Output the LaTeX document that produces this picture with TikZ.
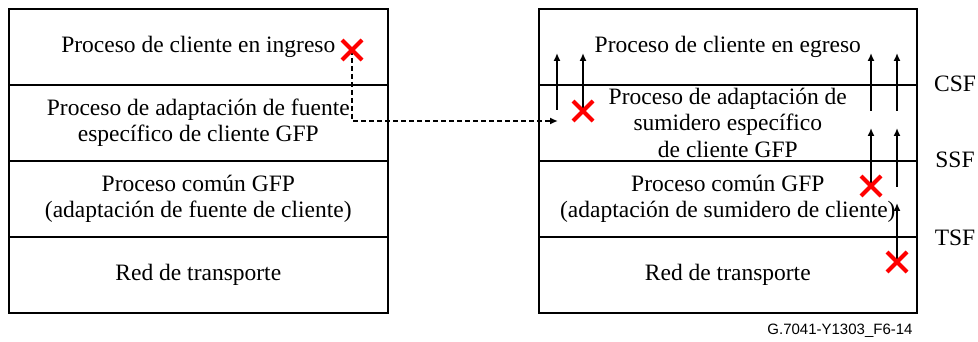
\documentclass[tikz,border=0pt]{standalone}
\usepackage{fontspec}
\setmainfont{Liberation Serif}
\newfontfamily\arialfont{Liberation Sans}
\usetikzlibrary{arrows.meta}
\begin{document}
\begin{tikzpicture}[x=1pt,y=-1pt,
  layer/.style={draw, line width=1.6pt, minimum height=76pt, inner sep=0pt,
    anchor=north west, align=center, font=\fontsize{23.5}{26.5}\selectfont},
  lbox/.style={layer, minimum width=379pt},
  rbox/.style={layer, minimum width=378pt},
  side/.style={font=\fontsize{23.5}{26.5}\selectfont, inner sep=0pt},
  uparrow/.style={line width=1.6pt, -{Latex[length=8pt,width=7pt]}},
  dashconn/.style={line width=1.6pt, dash pattern=on 5pt off 3pt, -{Latex[length=8pt,width=7pt]}},
  redx/.pic={\draw[red, line width=4pt] (-10,-10) -- (10,10) (-10,10) -- (10,-10);}
]
\useasboundingbox (0,0) rectangle (978,342);

% left stack
\node[lbox] (l1) at (8,8) {Proceso de cliente en ingreso};
\node[lbox] (l2) at (8,84) {Proceso de adaptación de fuente\\específico de cliente GFP};
\node[lbox] (l3) at (8,160) {Proceso común GFP\\(adaptación de fuente de cliente)};
\node[lbox] (l4) at (8,236) {Red de transporte};

% right stack
\node[rbox] (r1) at (538,8) {Proceso de cliente en egreso};
\node[rbox] (r2) at (538,84) {Proceso de adaptación de\\sumidero específico\\de cliente GFP};
\node[rbox] (r3) at (538,160) {Proceso común GFP\\(adaptación de sumidero de cliente)};
\node[rbox] (r4) at (538,236) {Red de transporte};

% side labels
\node[side] (csf) at (955,84) {CSF};
\node[side] (ssf) at (955,160) {SSF};
\node[side] (tsf) at (955,238) {TSF};

% coordinates
\coordinate (xa) at (352,50);
\coordinate (xb) at (583,111);
\coordinate (xc) at (871,186);
\coordinate (xd) at (897,262);
\coordinate (dend) at (558,121);
\coordinate (a1s) at (557,110);
\coordinate (a1e) at (557,53);
\coordinate (a2e) at (583,53);
\coordinate (a3s) at (871,111);
\coordinate (a3e) at (871,53);
\coordinate (a4s) at (897,111);
\coordinate (a4e) at (897,53);
\coordinate (a5e) at (871,128);
\coordinate (a6s) at (897,187);
\coordinate (a6e) at (897,128);
\coordinate (a7e) at (897,203);

% connectors
\draw[dashconn] (xa) |- (dend);
\draw[uparrow] (a1s) -- (a1e);
\draw[uparrow] (xb) -- (a2e);
\draw[uparrow] (a3s) -- (a3e);
\draw[uparrow] (a4s) -- (a4e);
\draw[uparrow] (xc) -- (a5e);
\draw[uparrow] (a6s) -- (a6e);
\draw[uparrow] (xd) -- (a7e);

% red crosses
\pic at (xa) {redx};
\pic at (xb) {redx};
\pic at (xc) {redx};
\pic at (xd) {redx};

% figure id
\node[font=\arialfont\fontsize{15}{18}\selectfont, inner sep=0pt] (fid) at (840,331) {G.7041-Y1303\_F6-14};
\end{tikzpicture}
\end{document}
